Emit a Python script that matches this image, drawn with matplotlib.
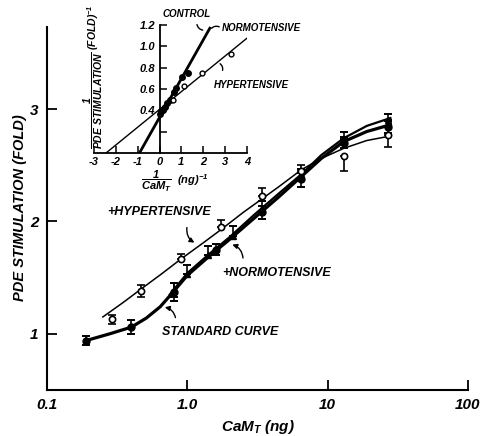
import matplotlib
matplotlib.use("Agg")
import matplotlib.pyplot as plt

plt.rcParams['font.family'] = ['Liberation Sans', 'DejaVu Sans']
plt.rcParams['font.weight'] = 'bold'
plt.rcParams['font.style'] = 'italic'
plt.rcParams['mathtext.fontset'] = 'custom'
plt.rcParams['mathtext.rm'] = 'Liberation Sans:italic:bold'
plt.rcParams['mathtext.it'] = 'Liberation Sans:italic:bold'
plt.rcParams['mathtext.bf'] = 'Liberation Sans:italic:bold'

# ---- main plot data ----
# fitted curves
std_curve_x = [0.19, 0.28, 0.4, 0.51, 0.64, 0.79, 1.0, 1.4, 2.0, 3.0, 4.5, 6.5, 9, 13, 19, 28]
std_curve_y = [0.94, 1.0, 1.06, 1.14, 1.24, 1.37, 1.52, 1.68, 1.84, 2.03, 2.22, 2.40, 2.56, 2.71, 2.80, 2.86]
norm_curve_x = [0.75, 1.0, 1.4, 2.0, 3.0, 4.5, 6.5, 9, 13, 19, 28]
norm_curve_y = [1.35, 1.54, 1.70, 1.86, 2.06, 2.25, 2.42, 2.59, 2.74, 2.85, 2.92]
hyp_curve_x = [0.25, 0.35, 0.47, 0.65, 0.9, 1.3, 1.75, 2.5, 3.4, 4.5, 6.5, 9, 13, 19, 28]
hyp_curve_y = [1.15, 1.28, 1.40, 1.53, 1.665, 1.81, 1.93, 2.08, 2.20, 2.31, 2.46, 2.56, 2.65, 2.72, 2.76]

# measured points
std_x = [0.19, 0.4, 0.8, 1.6, 3.4, 6.5, 13, 27]
std_y = [0.94, 1.06, 1.37, 1.75, 2.08, 2.38, 2.70, 2.84]
std_lo = [0.04, 0.06, 0.08, 0.05, 0.06, 0.07, 0.05, 0.05]
std_hi = [0.04, 0.06, 0.08, 0.05, 0.06, 0.05, 0.05, 0.05]

norm_x = [0.8, 1.0, 1.4, 2.1, 3.4, 6.5, 13, 27]
norm_y = [1.39, 1.53, 1.70, 1.87, 2.12, 2.42, 2.73, 2.90]
norm_lo = [0.06, 0.0, 0.0, 0.0, 0.04, 0.04, 0.0, 0.0]
norm_hi = [0.06, 0.08, 0.08, 0.09, 0.06, 0.05, 0.07, 0.06]

hyp_x = [0.29, 0.47, 0.9, 1.75, 3.4, 6.5, 13, 27]
hyp_y = [1.13, 1.38, 1.67, 1.95, 2.23, 2.45, 2.58, 2.77]
hyp_lo = [0.04, 0.05, 0.0, 0.0, 0.0, 0.0, 0.13, 0.11]
hyp_hi = [0.04, 0.05, 0.04, 0.06, 0.07, 0.05, 0.0, 0.0]

xtick_vals = [0.1, 1.0, 10, 100]
xtick_labels = ["0.1", "1.0", "10", "100"]
ytick_vals = [1, 2, 3]

# ---- inset data (double reciprocal) ----
in_filled_x = [0.0, 0.08, 0.15, 0.23, 0.34, 0.46, 0.64, 0.77, 1.04, 1.3]
in_filled_y = [0.37, 0.39, 0.40, 0.43, 0.47, 0.50, 0.57, 0.61, 0.71, 0.75]
in_open_x = [0.61, 1.11, 1.96, 3.29]
in_open_y = [0.50, 0.63, 0.75, 0.93]
in_norm_line_x = [-0.92, 2.3]
in_norm_line_y = [0.0, 1.17]
in_hyp_line_x = [-2.45, 4.2]
in_hyp_line_y = [0.0, 1.11]

fig = plt.figure(figsize=(4.8, 4.36), dpi=100)
ax = fig.add_axes([47 / 480, 1 - 390 / 436, 421 / 480, 363 / 436])
ax.set_xscale('log')

ax.plot(hyp_curve_x, hyp_curve_y, color='black', lw=1.1)
ax.plot(norm_curve_x, norm_curve_y, color='black', lw=1.6)
ax.plot(std_curve_x, std_curve_y, color='black', lw=2.3)

ax.errorbar(std_x, std_y, yerr=[std_lo, std_hi], fmt='o', ms=5, color='black',
            mfc='black', capsize=3, elinewidth=1.2, capthick=1.4)
ax.errorbar(norm_x, norm_y, yerr=[norm_lo, norm_hi], fmt='^', ms=5, color='black',
            mfc='black', capsize=3, elinewidth=1.2, capthick=1.4)
ax.errorbar(hyp_x, hyp_y, yerr=[hyp_lo, hyp_hi], fmt='o', ms=4.5, color='black',
            mfc='white', mew=1.2, capsize=3, elinewidth=1.2, capthick=1.4)

ax.set_xlim(0.1, 100)
ax.set_ylim(0.5, 3.73)
ax.set_xticks(xtick_vals)
ax.set_xticklabels(xtick_labels)
ax.minorticks_off()
ax.set_yticks(ytick_vals)
ax.tick_params(direction='in', length=7, width=1.3, labelsize=11, pad=6)
for s in ['top', 'right']:
    ax.spines[s].set_visible(False)
for s in ['left', 'bottom']:
    ax.spines[s].set_linewidth(1.5)

fig.text(20 / 480, 1 - 208 / 436, 'PDE STIMULATION (FOLD)', rotation=90,
         ha='center', va='center', fontsize=10.5)
fig.text(258 / 480, 1 - 427 / 436, r'CaM$\mathregular{_T}$ (ng)', ha='center',
         va='center', fontsize=11)

arrow = dict(arrowstyle='-|>', color='black', lw=1.0, mutation_scale=7,
             connectionstyle='arc3,rad=0.4')
ax.text(0.268, 2.08, '+HYPERTENSIVE', ha='left', va='center', fontsize=9)
ax.annotate('', xy=(1.17, 1.80), xytext=(1.0, 1.97), arrowprops=arrow)
ax.text(1.77, 1.54, '+NORMOTENSIVE', ha='left', va='center', fontsize=9)
ax.annotate('', xy=(2.0, 1.80), xytext=(2.5, 1.65), arrowprops=arrow)
ax.text(0.66, 1.02, 'STANDARD CURVE', ha='left', va='center', fontsize=9)
ax.annotate('', xy=(0.66, 1.24), xytext=(0.83, 1.12), arrowprops=arrow)

# ---- inset ----
axi = fig.add_axes([94 / 480, 1 - 153 / 436, 153 / 480, 128 / 436])
axi.patch.set_visible(False)
axi.plot(in_hyp_line_x, in_hyp_line_y, color='black', lw=1.0)
axi.plot(in_norm_line_x, in_norm_line_y, color='black', lw=2.0)
axi.plot(in_filled_x, in_filled_y, 'o', ms=4, color='black')
axi.plot(in_open_x, in_open_y, 'o', ms=3.5, color='black', mfc='white', mew=1.0)
axi.set_xlim(-3, 4)
axi.set_ylim(0, 1.2)
axi.spines['left'].set_position(('data', 0))
for s in ['top', 'right']:
    axi.spines[s].set_visible(False)
for s in ['left', 'bottom']:
    axi.spines[s].set_linewidth(1.3)
axi.set_xticks(range(-3, 5))
axi.set_xticklabels([str(v).replace('\u2212', '-') for v in range(-3, 5)])
axi.set_yticks([0.2, 0.4, 0.6, 0.8, 1.0, 1.2])
axi.set_yticklabels(['', '0.4', '0.6', '0.8', '1.0', '1.2'])
axi.tick_params(direction='in', length=5, width=1.1, labelsize=8, pad=3)

axi.text(-3.05, 0.72, r'$\dfrac{1}{PDE\ STIMULATION}$ (FOLD)$^{-1}$', rotation=90,
         ha='center', va='center', fontsize=7.5)
axi.text(0.7, -0.27, r'$\dfrac{1}{CaM_T}$  (ng)$^{-1}$', ha='center', va='center',
         fontsize=8)

iarrow = dict(arrowstyle='-', color='black', lw=1.0, connectionstyle='arc3,rad=0.5')
axi.text(1.24, 1.30, 'CONTROL', ha='center', va='center', fontsize=7)
axi.annotate('', xy=(2.1, 1.15), xytext=(1.7, 1.23), arrowprops=iarrow)
axi.text(2.84, 1.17, 'NORMOTENSIVE', ha='left', va='center', fontsize=7)
axi.annotate('', xy=(2.3, 1.15), xytext=(2.84, 1.17), arrowprops=iarrow)
axi.text(2.48, 0.64, 'HYPERTENSIVE', ha='left', va='center', fontsize=7)
axi.annotate('', xy=(2.66, 0.85), xytext=(2.84, 0.75), arrowprops=iarrow)

fig.savefig('out.png', dpi=100)
